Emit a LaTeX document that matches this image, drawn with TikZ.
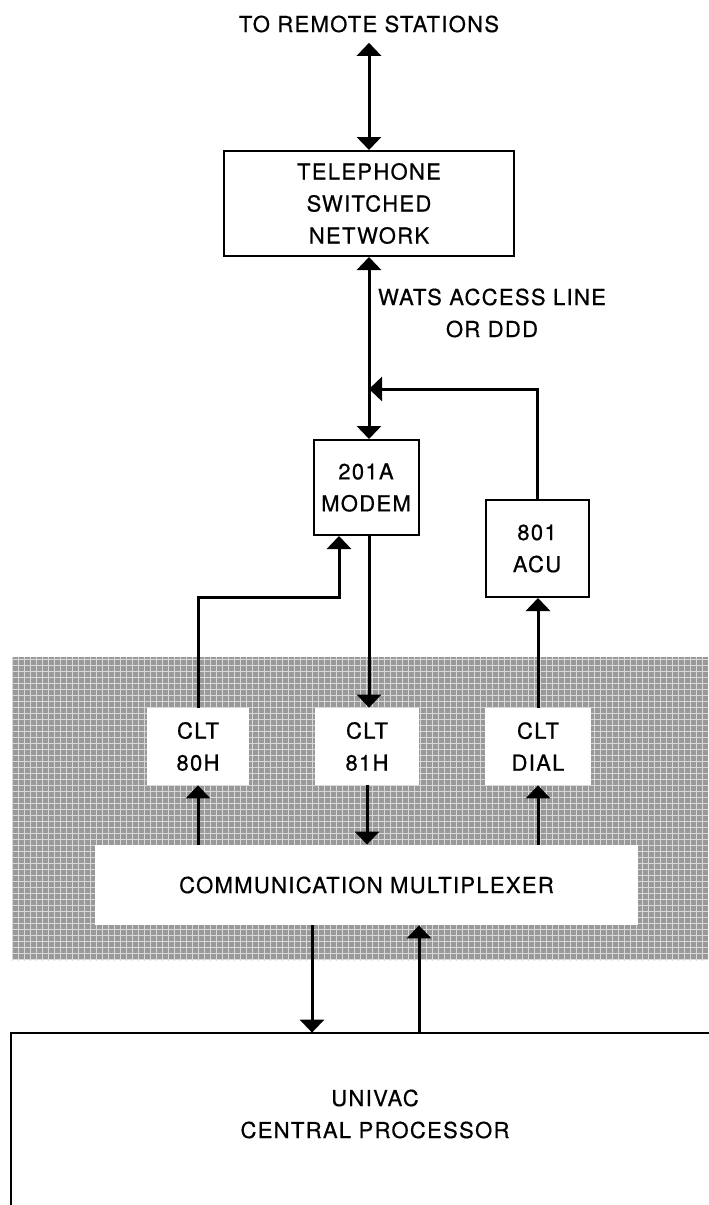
\documentclass[tikz,border=0pt]{standalone}
\usepackage{fontspec}
\setmainfont{TeX Gyre Heros}[LetterSpace=6,FakeBold=0.6]
\usetikzlibrary{arrows.meta,patterns}
\begin{document}
\begin{tikzpicture}
[x=0.5pt,y=-0.5pt,
 every node/.style=
   {font=\fontsize{11}{16}\selectfont,align=center,inner sep=0pt},
 box/.style={draw=black,line width=1pt,fill=white},
 clt/.style={fill=white,minimum width=52pt,minimum height=38.5pt},
 link/.style={line width=1.5pt,
   >={Triangle[width=12pt,length=6.5pt]}}]
\useasboundingbox (0,0) rectangle (708,1205);
\fill[black!40] (12,657) rectangle (708,960);
\fill[pattern=grid,pattern color=black!15] (12,657) rectangle (708,960);
\node [inner ysep=5pt] (remote) at (369,24) {TO REMOTE STATIONS};
\node [box,minimum width=145pt,minimum height=52.5pt] (tsn) at (369,203.5)
  {TELEPHONE\\SWITCHED\\NETWORK};
\node [font=\fontsize{11}{16}\selectfont] (wats) at (492,313)
  {WATS ACCESS LINE\\OR DDD};
\node [box,minimum width=52.5pt,minimum height=47.5pt] (modem) at (366,487.5)
  {201A\\MODEM};
\node [box,minimum width=51.5pt,minimum height=48.5pt] (acu) at (537,548.5)
  {801\\ACU};
\node [clt,minimum width=51pt] (clta) at (198,746.5) {CLT\\80H};
\node [clt] (cltb) at (367,746.5) {CLT\\81H};
\node [clt,minimum width=53pt] (cltc) at (538,746.5) {CLT\\DIAL};
\node [fill=white,minimum width=271.5pt,minimum height=40pt] (mux) at (366.5,885)
  {COMMUNICATION MULTIPLEXER};
\node [minimum width=364pt,minimum height=81pt] (cpu) at (375,1114)
  {UNIVAC\\CENTRAL PROCESSOR};
\draw [line width=1pt] (cpu.north east) -- (cpu.north west) -- ++(0,200);
\coordinate (join) at (369,389);
\coordinate (bend) at (339,597);
\draw [link,<->] (tsn.north) -- (tsn.north |- remote.south);
\draw [link,<->] (tsn.south) -- (tsn.south |- modem.north);
\draw [link,->] (acu.north) |- (join);
\draw [link,->] (clta.north) |- (bend) -- (bend |- modem.south);
\draw [link,->] (tsn.south |- modem.south) -- (tsn.south |- cltb.north);
\draw [link,->] (cltc.north) -- (cltc.north |- acu.south);
\draw [link,->] (clta.south |- mux.north) -- (clta.south);
\draw [link,->] (cltb.south) -- (cltb.south |- mux.north);
\draw [link,->] (cltc.south |- mux.north) -- (cltc.south);
\draw [link,->] (mux.south -| 312,0) -- (cpu.north -| 312,0);
\draw [link,->] (cpu.north -| 419,0) -- (mux.south -| 419,0);
\end{tikzpicture}
\end{document}
